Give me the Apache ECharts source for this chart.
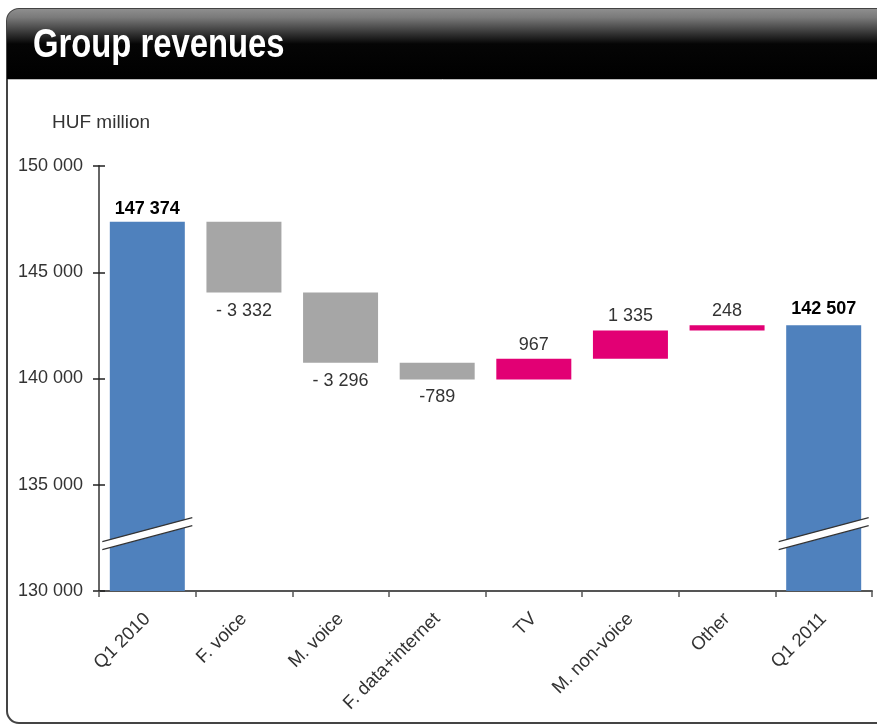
<!DOCTYPE html>
<html>
<head>
<meta charset="utf-8">
<script src="https://cdn.jsdelivr.net/npm/echarts@6/dist/echarts.min.js"></script>
<style>
html,body{margin:0;padding:0;background:#fff;}
#c{width:877px;height:725px;}
</style>
</head>
<body>
<div id="c"></div>
<script>
const categories = ['Q1 2010', 'F. voice', 'M. voice', 'F. data+internet', 'TV', 'M. non-voice', 'Other', 'Q1 2011'];
const startTotal = 147374;
const endTotal = 142507;
const changes = [-3332, -3296, -789, 967, 1335, 248];
const yTicks = { min: 130000, max: 150000, interval: 5000 };

const COL_TOTAL = '#4F81BD';
const COL_NEG = '#A6A6A6';
const COL_POS = '#E20074';

// build waterfall
const baseData = [];
const barData = [];
baseData.push(0);
barData.push({ value: startTotal, kind: 'total', raw: startTotal, itemStyle: { color: COL_TOTAL },
  label: { position: 'top', fontWeight: 'bold', color: '#000', distance: 4 } });
let run = startTotal;
changes.forEach(d => {
  const next = run + d;
  baseData.push(Math.min(run, next));
  barData.push({ value: Math.abs(d), kind: 'delta', raw: d, itemStyle: { color: d < 0 ? COL_NEG : COL_POS },
    label: { position: d < 0 ? 'bottom' : 'top', distance: d < 0 ? 9 : 5 } });
  run = next;
});
baseData.push(0);
barData.push({ value: endTotal, kind: 'total', raw: endTotal, itemStyle: { color: COL_TOTAL },
  label: { position: 'top', fontWeight: 'bold', color: '#000', distance: 7 } });

function fmt(v) {
  const a = Math.abs(v);
  const s = String(a).replace(/\B(?=(\d{3})+(?!\d))/g, ' ');
  if (v < 0) return (a >= 1000 ? '- ' : '-') + s;
  return s;
}

const chart = echarts.init(document.getElementById('c'), null, { renderer: 'canvas' });
const FONT = "'Liberation Sans', Arial, sans-serif";

const option = {
  animation: false,
  backgroundColor: '#fff',
  grid: { left: 99, right: 5, top: 166, bottom: 134, containLabel: false },
  xAxis: {
    type: 'category',
    data: categories,
    axisLine: { lineStyle: { color: '#555', width: 2 } },
    axisTick: { show: true, length: 6, lineStyle: { color: '#555', width: 1.5 } },
    axisLabel: { interval: 0, rotate: 45, margin: 25, fontSize: 18.5, color: '#333', fontFamily: FONT }
  },
  yAxis: [{
    type: 'value',
    min: yTicks.min, max: yTicks.max, interval: yTicks.interval,
    axisLine: { show: true, lineStyle: { color: '#666', width: 2 } },
    axisTick: { show: true, length: 6, lineStyle: { color: '#222', width: 1.5 } },
    splitLine: { show: false },
    axisLabel: { fontSize: 18, color: '#333', margin: 16, fontFamily: FONT, formatter: v => fmt(v) }
  }, {
    type: 'value',
    position: 'left',
    min: yTicks.min, max: yTicks.max, interval: yTicks.interval,
    axisLine: { show: false },
    axisTick: { show: true, inside: true, length: 6, lineStyle: { color: '#222', width: 1.5 } },
    splitLine: { show: false },
    axisLabel: { show: false }
  }],
  graphic: [
    { type: 'rect', z: -10, shape: { x: 7, y: 9, width: 900, height: 714, r: 12 },
      style: { fill: '#fff', stroke: '#444', lineWidth: 2 } },
    { type: 'rect', z: -9, shape: { x: 7, y: 9, width: 900, height: 70, r: [12, 0, 0, 0] },
      style: { fill: new echarts.graphic.LinearGradient(0, 0, 0, 1, [
        { offset: 0, color: '#8e8e8e' }, { offset: 0.12, color: '#7a7a7a' },
        { offset: 0.5, color: '#050505' }, { offset: 1, color: '#000' }]) } },
    { type: 'line', z: -8, shape: { x1: 8, y1: 79.5, x2: 877, y2: 79.5 }, style: { stroke: '#bbb', lineWidth: 1 } },
    { type: 'text', z: -7, x: 33, y: 46, scaleX: 0.82, scaleY: 1.03,
      style: { x: 0, y: 0, text: 'Group revenues', fill: '#fff',
      font: "bold 40px 'Liberation Sans Narrow', 'Arial Narrow', 'Liberation Sans', Arial, sans-serif", verticalAlign: 'middle' } },
    { type: 'text', z: -7, style: { x: 52, y: 123, text: 'HUF million', fill: '#333',
      font: "19px 'Liberation Sans', Arial, sans-serif", verticalAlign: 'middle' } }
  ],
  series: [{
    type: 'bar', stack: 'w', barWidth: 75, data: baseData,
    itemStyle: { color: 'transparent' }, silent: true, label: { show: false }
  }, {
    type: 'bar', stack: 'w', barWidth: 75, data: barData,
    label: {
      show: true, position: 'top', distance: 5, fontSize: 18, fontFamily: FONT, color: '#333',
      formatter: p => fmt(p.data.raw)
    }
  }]
};

chart.setOption(option);

// axis-break marks on total bars
function breakMark(idx) {
  const c = chart.convertToPixel({ xAxisIndex: 0, yAxisIndex: 0 }, [idx, 132700]);
  const cx = c[0], cy = c[1];
  const hw = 45, dy = 12, g = 4;
  return [
    { type: 'polygon', z: 100, shape: { points: [[cx - hw, cy + dy - g], [cx + hw, cy - dy - g], [cx + hw, cy - dy + g], [cx - hw, cy + dy + g]] },
      style: { fill: '#fff' } },
    { type: 'line', z: 101, shape: { x1: cx - hw, y1: cy + dy - g, x2: cx + hw, y2: cy - dy - g }, style: { stroke: '#333', lineWidth: 1.2 } },
    { type: 'line', z: 101, shape: { x1: cx - hw, y1: cy + dy + g, x2: cx + hw, y2: cy - dy + g }, style: { stroke: '#333', lineWidth: 1.2 } }
  ];
}
const marks = [].concat(breakMark(0), breakMark(categories.length - 1));
chart.setOption({ graphic: option.graphic.concat(marks) });
</script>
</body>
</html>
